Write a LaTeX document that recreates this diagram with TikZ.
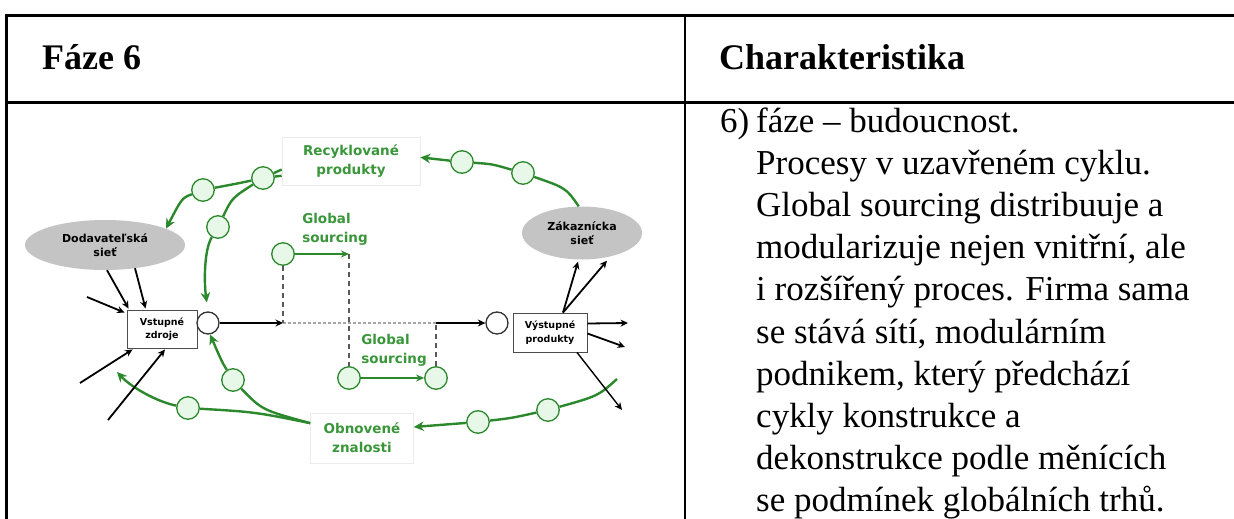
\documentclass[tikz,border=0pt]{standalone}
\usepackage{fontspec}
\setmainfont{Liberation Serif}
\newfontfamily\diagfont{DejaVu Sans}
\usetikzlibrary{arrows.meta,shapes.geometric,calc}

\definecolor{loopgreen}{RGB}{44,136,44}
\definecolor{labelgreen}{RGB}{58,150,58}
\definecolor{hubfill}{RGB}{232,248,232}
\definecolor{netgray}{RGB}{196,196,196}

\begin{document}
\begin{tikzpicture}[x=1pt,y=-1pt,
  head/.style={font=\bfseries\fontsize{36}{40}\selectfont, inner sep=0pt},
  body/.style={font=\fontsize{35}{42}\selectfont, inner sep=0pt},
  net/.style={ellipse, fill=netgray, inner sep=0pt, align=center,
    font=\diagfont\bfseries\fontsize{11}{14.5}\selectfont},
  stage/.style={draw=black!70, fill=white, line width=0.9pt, inner sep=0pt,
    minimum width=70pt, minimum height=38pt, align=center,
    font=\diagfont\bfseries\fontsize{9.5}{13.5}\selectfont},
  hub/.style={circle, draw=loopgreen, fill=hubfill, line width=1.3pt,
    minimum size=22.5pt, inner sep=0pt},
  gate/.style={circle, draw=black!80, fill=white, line width=1.3pt,
    minimum size=22pt, inner sep=0pt},
  tag/.style={draw=black!8, line width=0.6pt, inner sep=0pt, align=center,
    text=labelgreen, font=\diagfont\bfseries\fontsize{13.5}{19}\selectfont},
  flow/.style={draw=loopgreen, line width=2.4pt,
    -{Stealth[length=10pt,width=9.5pt]}},
  feed/.style={draw=black, line width=1.8pt,
    -{Stealth[length=7.5pt,width=7pt]}},
  drop/.style={draw=black!65, line width=1.8pt, dash pattern=on 5pt off 4pt},
  trace/.style={draw=black!35, line width=1.4pt, dash pattern=on 2.5pt off 2.5pt}
]
\useasboundingbox (0,0) rectangle (1234,519);
\fill[white] (0,0) rectangle (1234,519);

% table frame
\draw[line width=3.5pt, line join=miter] (1234,15.5) -- (6.5,15.5) -- (6.5,519);
\draw[line width=3.5pt] (6.5,102.5) -- (1234,102.5);
\draw[line width=1.8pt] (685,15.5) -- (685,519);

% header row
\node[head, anchor=base west] (phase) at (42,70) {Fáze 6};
\node[head, anchor=base west] (charhead) at (719,70) {Charakteristika};

% description column
\node[body, anchor=base west] (num) at (720,132) {6)};
\foreach [count=\i] \t in {{fáze – budoucnost.},
  {Procesy v uzavřeném cyklu.},
  {Global sourcing distribuuje a},
  {modularizuje nejen vnitřní, ale},
  {i rozšířený proces. Firma sama},
  {se stává sítí, modulárním},
  {podnikem, který předchází},
  {cykly konstrukce a},
  {dekonstrukce podle měnících},
  {se podmínek globálních trhů.}}
  \node[body, anchor=base west] (line\i) at (756,{132+42.2*(\i-1)}) {\t};

% networks and process boxes
\node[net, minimum width=160pt, minimum height=50pt] (dod) at (105,245) {Dodavateľská\\sieť};
\node[net, minimum width=120pt, minimum height=53pt] (zak) at (582,233) {Zákaznícka\\sieť};
\node[stage] (vst) at (162,329) {Vstupné\\zdroje};
\node[stage, minimum width=74pt, minimum height=39pt] (vys) at (550,332.5) {Výstupné\\produkty};
\node[gate] (gin) at (208,323) {};
\node[gate] (gout) at (497,323) {};

% green labels
\node[tag, minimum width=138pt, minimum height=48pt] (rec) at (351,161) {Recyklované\\produkty};
\node[tag, draw=none, align=left] (gsA) at (335,229) {Global\\sourcing};
\node[tag, draw=none, align=left] (gsB) at (394,350) {Global\\sourcing};
\node[tag, minimum width=103pt, minimum height=50pt] (obn) at (362,438) {Obnovené\\znalosti};

% loop stations
\node[hub] (r1) at (263,178) {};
\node[hub] (r2) at (203,190) {};
\node[hub] (r3) at (218,227) {};
\node[hub] (z1) at (523,173) {};
\node[hub] (z2) at (462,162) {};
\node[hub] (o1) at (548,410) {};
\node[hub] (o2) at (478,422) {};
\node[hub] (k1) at (188,408) {};
\node[hub] (k2) at (233,380) {};
\node[hub] (g1) at (283,254) {};
\node[hub] (g2) at (349,378) {};
\node[hub] (g3) at (436,378) {};

% junctions and free ends
\coordinate (jL) at (283,323);
\coordinate (jR) at (436,323);
\coordinate (gTip) at (349,254);
\coordinate (oStart) at (617,379);
\coordinate (kEnd) at (117,372);
\coordinate (inA) at (87,297);
\coordinate (inB) at (80,383);
\coordinate (inC) at (108,420);
\coordinate (outA) at (628,323);
\coordinate (outB) at (625,347);
\coordinate (outC) at (622,410);

% main process line
\draw[feed] (gin) -- (jL);
\draw[trace] (jL) -- (jR);
\draw[feed] (jR) -- (gout);

% global sourcing detour
\draw[flow, -{Stealth[length=8pt,width=7pt]}, line width=1.8pt] (g1) -- (gTip);
\draw[drop] (g1.south) -- (jL);
\draw[drop] (gTip) -- (g2.north);
\draw[flow, -{Stealth[length=8pt,width=7pt]}, line width=1.8pt] (g2) -- (g3);
\draw[drop] (g3.north) -- (jR);

% recycled products loop
\draw[flow] (rec.187) -- (r1) .. controls (240,183) .. (r2) .. controls (182,198) .. (dod.15);
\draw[flow, shorten >=9pt] (rec.192) -- (r1) .. controls (232,198) .. (r3) .. controls (204,250) and (204,282) .. (gin.north);
\draw[flow] (zak.97) .. controls (566,188) .. (z1) .. controls (492,164) .. (z2) -- (rec.3);

% renewed knowledge loop
\draw[flow] (oStart) .. controls (598,396) .. (o1) .. controls (512,418) .. (o2) -- (obn.12);
\draw[flow] (obn.164) .. controls (255,412) .. (k1) .. controls (158,402) and (132,388) .. (kEnd);
\draw[flow] (obn.164) .. controls (262,410) .. (k2) .. controls (222,362) .. (gin.-80);

% inputs of the entry box
\draw[feed] ($(dod.south)+(2,0)$) -- ($(vst.north west)+(2,-1)$);
\draw[feed] ($(dod.south)+(30,-2)$) -- ($(vst.north west)+(19,-1)$);
\draw[feed] (inA) -- ($(vst.north west)+(-2,3)$);
\draw[feed] (inB) -- ($(vst.south west)+(6,1)$);
\draw[feed] (inC) -- ($(vst.south)+(3,1)$);

% outputs of the exit box
\draw[feed] ($(vys.north)+(13,0)$) -- ($(zak.south)+(-4,2)$);
\draw[feed] ($(vys.north)+(13,0)$) -- ($(zak.south)+(25,1)$);
\draw[feed] ($(vys.east)+(0,-9)$) -- (outA);
\draw[feed] ($(vys.east)+(0,1)$) -- (outB);
\draw[feed, line width=1.4pt] ($(vys.south)+(27,0)$) -- (outC);
\end{tikzpicture}
\end{document}
